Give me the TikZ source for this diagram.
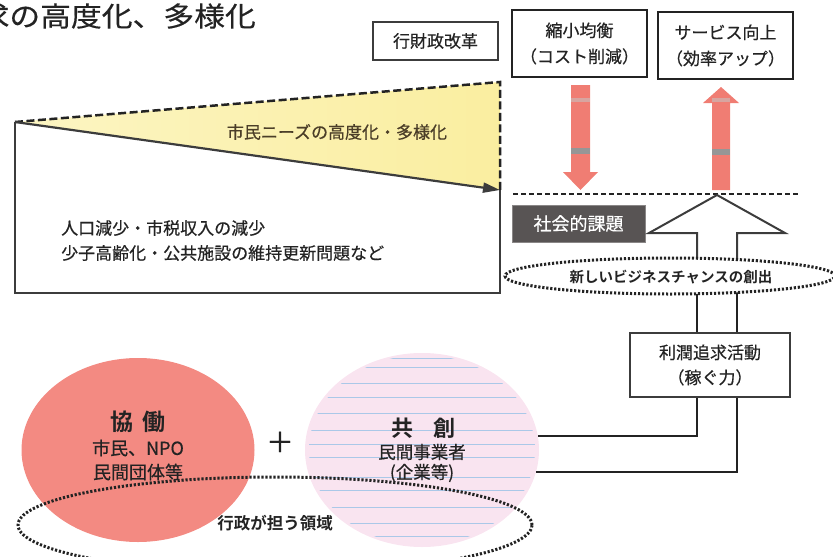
\documentclass[tikz,border=0pt]{standalone}
\usepackage{fontspec}
\newfontfamily\jp{Noto Sans CJK JP}[FakeBold=0.5, BoldFont={Noto Sans CJK JP Bold}, BoldFeatures={FakeBold=0}]
\newfontfamily\jptitle{Noto Sans CJK JP}[FakeStretch=1.12, FakeBold=0.4]
\usetikzlibrary{arrows.meta,shapes.geometric,backgrounds}
\definecolor{ink}{RGB}{35,35,35}
\definecolor{lineg}{RGB}{60,60,60}
\definecolor{yelR}{RGB}{250,238,160}
\definecolor{yelL}{RGB}{252,245,195}
\definecolor{arrowred}{RGB}{240,125,115}
\definecolor{bandg}{RGB}{150,150,150}
\definecolor{bandl}{RGB}{215,165,160}
\definecolor{darkbox}{RGB}{88,84,84}
\definecolor{redc}{RGB}{243,138,130}
\definecolor{lav}{RGB}{249,228,240}
\definecolor{stripe}{RGB}{170,200,232}
\definecolor{needtxt}{RGB}{75,62,40}
\begin{document}
\begin{tikzpicture}[x=1pt,y=-1pt,
  txt/.style={inner sep=0pt, font=\jp\fontsize{17pt}{25pt}\selectfont, text=ink, align=center},
  boxthin/.style={draw=lineg, line width=1.2pt, fill=white, inner sep=0pt, font=\jp\fontsize{17pt}{25pt}\selectfont, text=ink, align=center},
  boxthick/.style={draw=ink, line width=2.4pt, fill=white, inner sep=0pt, font=\jp\fontsize{17pt}{26pt}\selectfont, text=ink, align=center},
  dotline/.style={draw=ink, line width=3pt, dash pattern=on 2.2pt off 1.8pt},
  dashedge/.style={draw=ink, line width=2.5pt, dash pattern=on 8pt off 3.5pt},
  solidedge/.style={draw=lineg, line width=2.4pt},
  redarrow/.style={fill=arrowred, draw=none},
  conn/.style={draw=ink, line width=2pt}
]
\useasboundingbox (0,0) rectangle (833,557);

% title
\node[inner sep=0pt, anchor=east, font=\jptitle\fontsize{27.5pt}{30pt}\selectfont, text=ink] (title) at (256,16) {求の高度化、多様化};

% trapezoid (needs diagram)
\coordinate (tl) at (15,122);
\coordinate (tr) at (500,82);
\coordinate (mr) at (500,190);
\coordinate (br) at (500,293);
\coordinate (bl) at (15,293);
\shade[left color=yelL, right color=yelR] (tl) -- (tr) -- (mr) -- cycle;
\draw[dashedge] (tl) -- (tr) -- (mr);
\draw[solidedge] (mr) -- (br) -- (bl) -- (tl);
\draw[lineg, line width=2.2pt, -{Triangle[length=17pt,width=10pt]}] (tl) -- (mr);
\node[txt, text=needtxt] (needs) at (337,132) {市民ニーズの高度化・多様化};
\node[txt, anchor=west] (issue1) at (61,228) {人口減少・市税収入の減少};
\node[txt, anchor=west] (issue2) at (61,253) {少子高齢化・公共施設の維持更新問題など};

% top boxes
\node[boxthin, minimum width=125pt, minimum height=38pt] (reform) at (435.5,41) {行財政改革};
\node[boxthick, minimum width=135pt, minimum height=67pt] (shrink) at (579.5,43.5) {縮小均衡\\（コスト削減）};
\node[boxthick, minimum width=135pt, minimum height=67pt] (service) at (725.5,45.5) {サービス向上\\（効率アップ）};

% red arrows
\fill[redarrow] (571,85) -- (590,85) -- (590,172) -- (598,172) -- (580.5,190) -- (563,172) -- (571,172) -- cycle;
\fill[bandl] (571,98) rectangle (590,102);
\fill[bandg] (571,148) rectangle (590,154);
\fill[redarrow] (712,190) -- (730,190) -- (730,103) -- (739,103) -- (721,87) -- (703,103) -- (712,103) -- cycle;
\fill[bandl] (712,98) rectangle (730,102);
\fill[bandg] (712,149) rectangle (730,155);

% dashed line
\coordinate (dl) at (513,194);
\coordinate (dr) at (800,194);
\draw[ink, line width=1.4pt, dash pattern=on 5pt off 3pt] (dl) -- (dr);

% social issue box
\node[draw=darkbox!70, line width=1pt, fill=darkbox, minimum width=133pt, minimum height=37pt, inner sep=0pt, text=white, font=\jp\fontsize{18pt}{20pt}\selectfont] (issue) at (578.5,223.5) {社会的課題};

% hollow arrow
\coordinate (laneL) at (697,276);
\coordinate (laneR) at (737,276);
\coordinate (htip) at (717,195);
\filldraw[fill=white, draw=lineg, line width=2pt, line join=miter] (laneL) -- (697,233) -- (649,233) -- (htip) -- (785,233) -- (737,233) -- (laneR);

% business chance ellipse
\node[ellipse, dotline, fill=white, minimum width=330pt, minimum height=36pt, inner sep=0pt] (biz) at (670,276) {};
\node[txt, font=\jp\bfseries\fontsize{14.5pt}{16pt}\selectfont] (bizT) at (671,277) {新しいビジネスチャンスの創出};

% profit box
\node[boxthin, line width=1.5pt, minimum width=160pt, minimum height=64pt] (profit) at (710,365) {利潤追求活動\\（稼ぐ力）};

% circles
\node[ellipse, fill=redc, minimum width=233pt, minimum height=184pt, inner sep=0pt] (kyodo) at (138,450) {};
\node[ellipse, fill=lav, minimum width=234pt, minimum height=194pt, inner sep=0pt] (kyoso) at (422,450) {};
\begin{scope}
  \clip (422,450) ellipse [x radius=113, y radius=95];
  \foreach \yy in {358,367,383,397,413,430,444,457,477,490,507,523,536}
    \draw[stripe, line width=0.9pt] (300,\yy) -- (545,\yy);
\end{scope}

\node[txt, font=\jp\bfseries\fontsize{23pt}{25pt}\selectfont] (kyodoT) at (138,422) {協\hspace{10pt}働};
\node[txt, font=\jp\fontsize{18pt}{24pt}\selectfont] (kyodoS) at (138,460) {市民、NPO\\民間団体等};
\node[txt, font=\jp\bfseries\fontsize{22pt}{25pt}\selectfont] (kyosoT) at (423,428) {共\hspace{20pt}創};
\node[txt, font=\jp\fontsize{17.5pt}{20pt}\selectfont] (kyosoS) at (422,463) {民間事業者\\(企業等)};
\node[txt, font=\jp\fontsize{28pt}{28pt}\selectfont] (plus) at (280,442) {＋};

% government ellipse
\node[ellipse, dotline, minimum width=514pt, minimum height=96pt, inner sep=0pt] (gov) at (275,525) {};
\node[txt, font=\jp\bfseries\fontsize{16.5pt}{18pt}\selectfont] (govT) at (275,523) {行政が担う領域};

% connectors
\begin{pgfonlayer}{background}
  \draw[conn] (profit.north -| laneL) -- (laneL);
  \draw[conn] (profit.north -| laneR) -- (laneR);
\end{pgfonlayer}
\draw[conn] (kyoso.7.9) -| (profit.south -| laneL);
\draw[conn] (kyoso.-11.95) -| (profit.south -| laneR);
\end{tikzpicture}
\end{document}
